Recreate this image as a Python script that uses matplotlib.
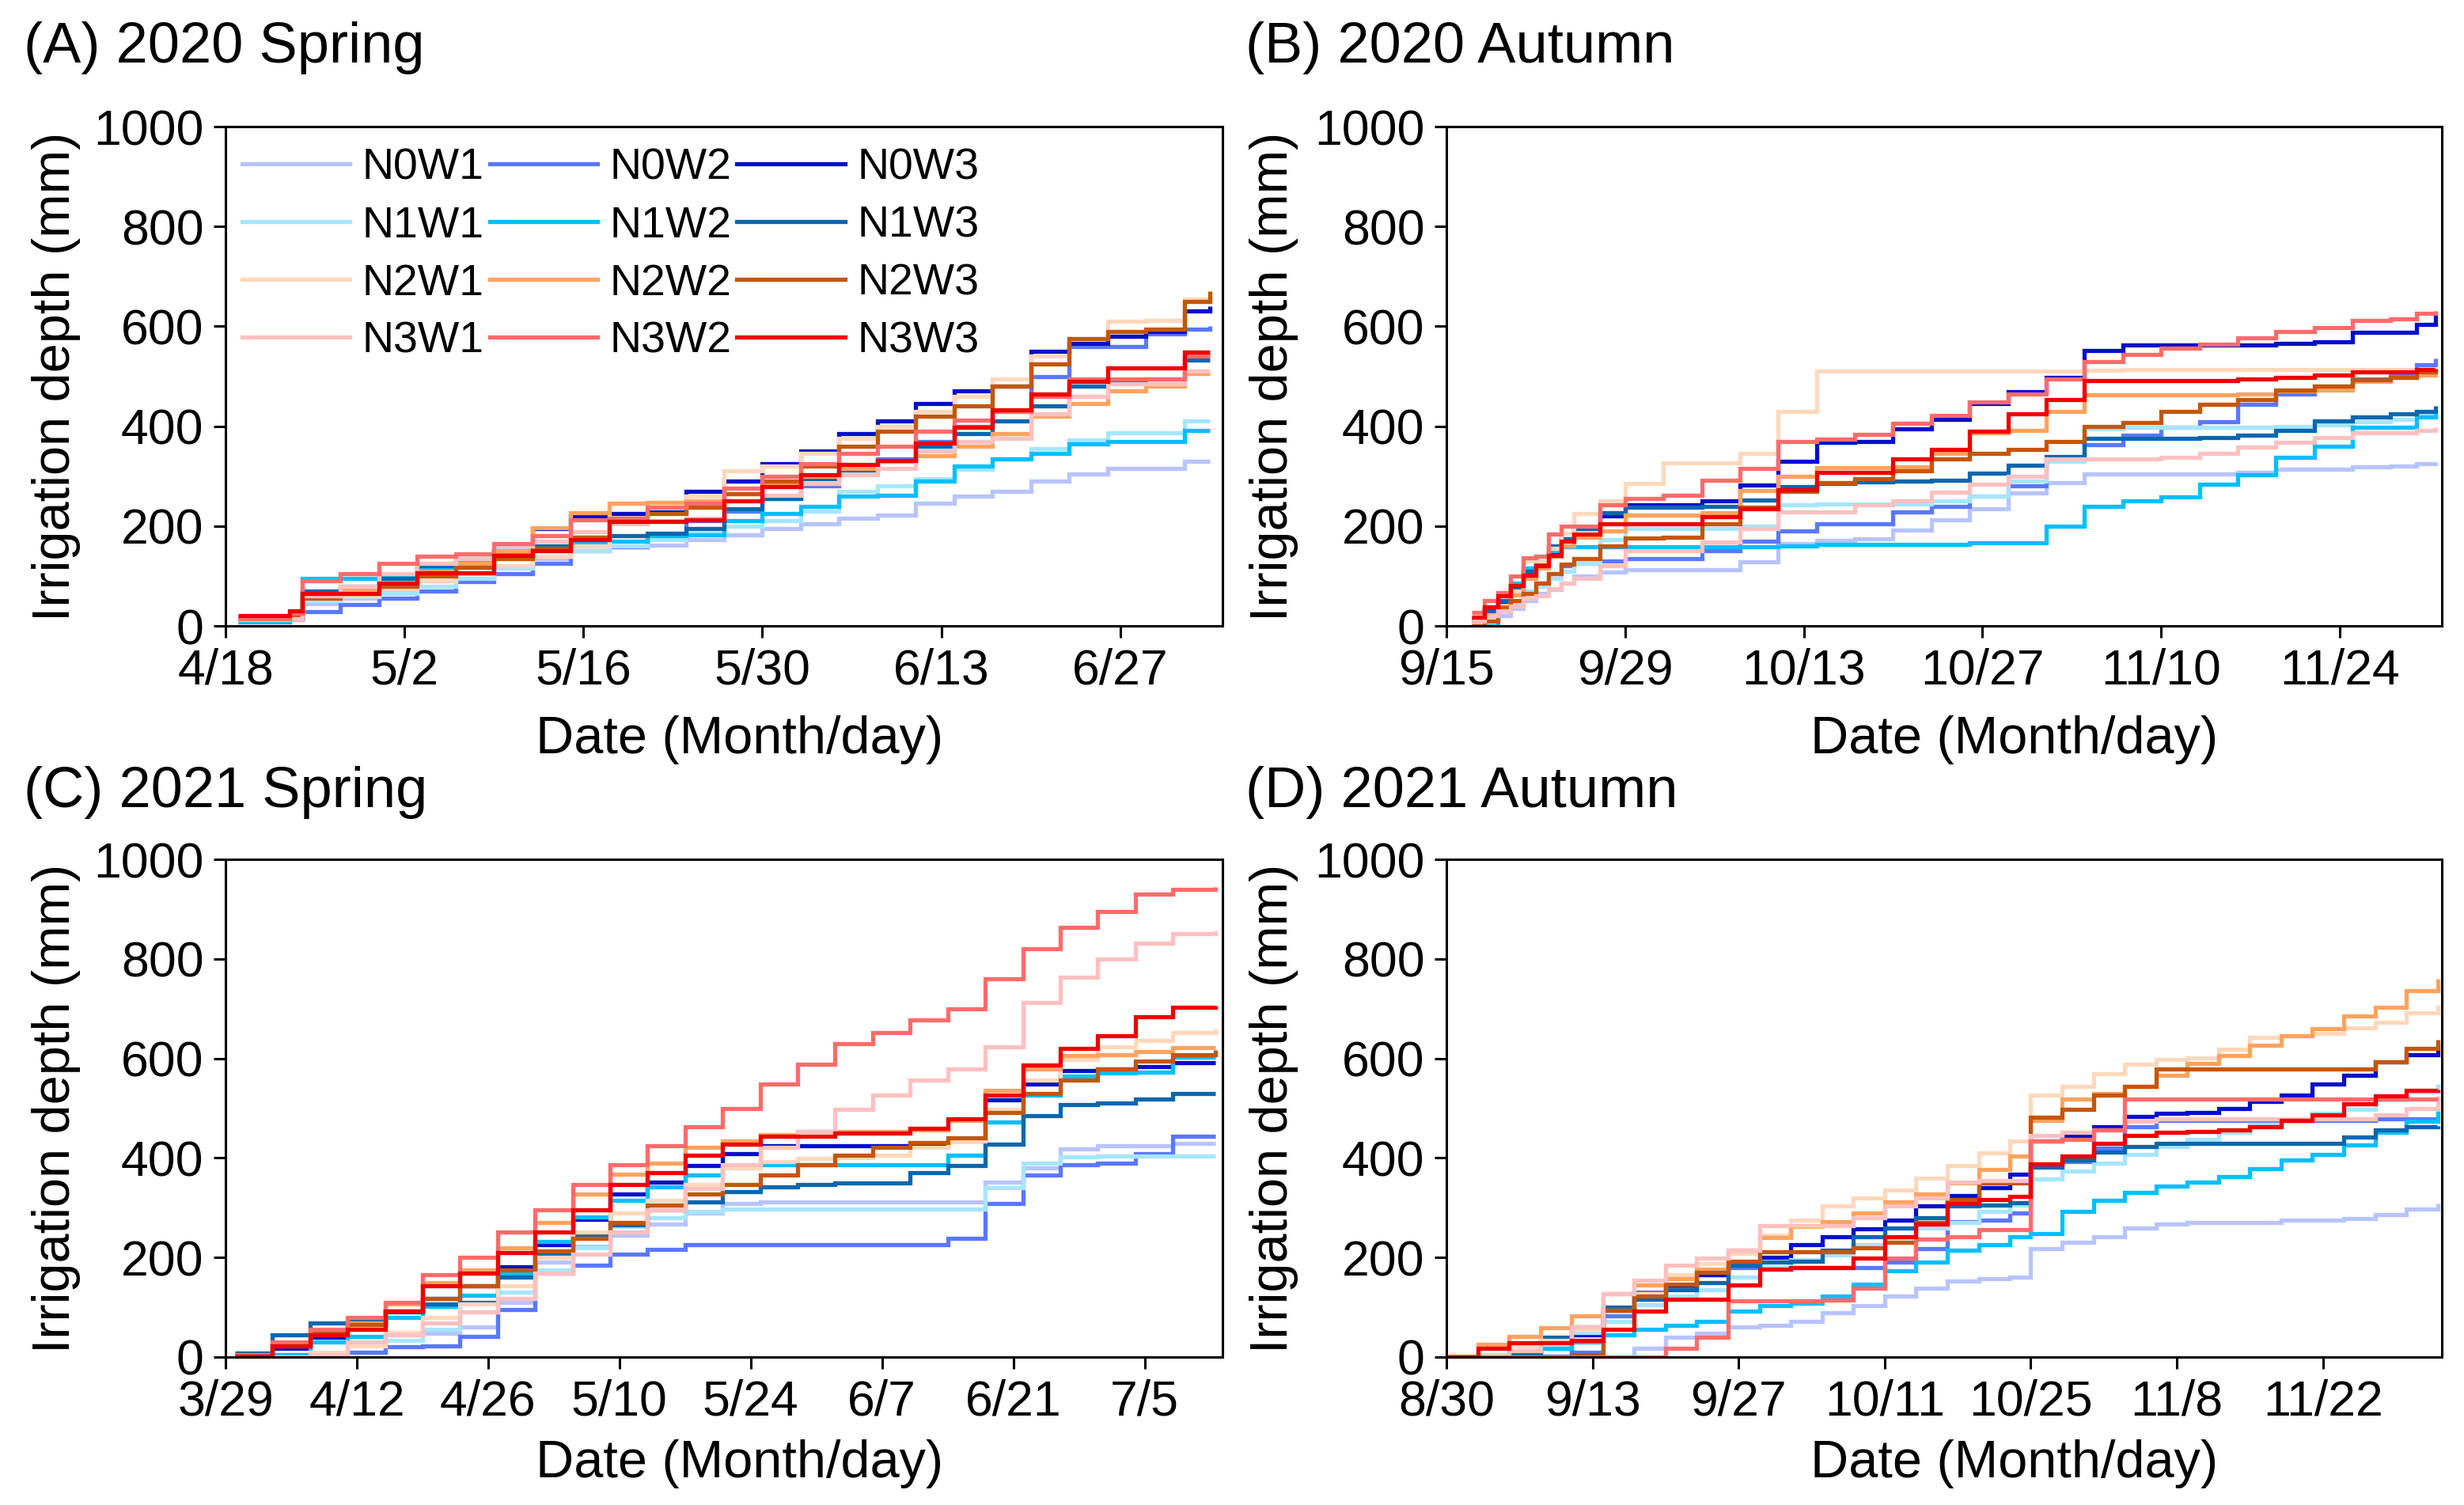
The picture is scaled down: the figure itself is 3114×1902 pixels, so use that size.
import numpy as np
import matplotlib
matplotlib.use("Agg")
import matplotlib.pyplot as plt
from matplotlib.lines import Line2D

plt.rcParams['font.family'] = ['Liberation Sans', 'DejaVu Sans']

series_names = ['N0W1', 'N0W2', 'N0W3', 'N1W1', 'N1W2', 'N1W3',
                'N2W1', 'N2W2', 'N2W3', 'N3W1', 'N3W2', 'N3W3']
series_colors = ['#B8C4FF', '#5A78FF', '#0010C8', '#A6E6FF', '#00BFFF', '#0A67AE',
                 '#FFD8BC', '#FFA35E', '#C4560A', '#FFC0C0', '#FF6B6B', '#EE0000']

y_ticks = [0, 200, 400, 600, 800, 1000]

# ---------------- (A) 2020 Spring : days after 4/18 ----------------
A_title = '(A) 2020 Spring'
A_xlabels = ['4/18', '5/2', '5/16', '5/30', '6/13', '6/27']
A_xmax = 78
A_days = [1, 5, 6, 9, 12, 15, 18, 21, 24, 27, 30, 33, 36, 39, 42, 45, 48, 51, 54, 57, 60, 63, 66, 69, 72, 75, 77]
A_N0W1 = [10, 12, 45, 55, 70, 90, 95, 120, 135, 150, 158, 162, 172, 182, 195, 205, 215, 222, 245, 260, 270, 290, 305, 315, 316, 329, 330]
A_N0W2 = [8, 15, 28, 42, 55, 70, 88, 105, 125, 150, 158, 175, 210, 230, 255, 280, 312, 335, 370, 400, 430, 500, 560, 560, 585, 595, 600]
A_N0W3 = [15, 18, 60, 75, 95, 105, 135, 150, 195, 220, 225, 228, 270, 290, 325, 350, 385, 410, 445, 470, 480, 550, 565, 580, 590, 630, 640]
A_N1W1 = [10, 12, 50, 58, 65, 80, 95, 115, 140, 150, 160, 172, 185, 200, 210, 230, 270, 280, 295, 313, 335, 355, 372, 387, 387, 410, 410]
A_N1W2 = [10, 15, 95, 95, 100, 115, 130, 145, 157, 167, 170, 180, 182, 210, 225, 240, 260, 262, 290, 320, 335, 345, 365, 370, 370, 392, 392]
A_N1W3 = [12, 15, 70, 80, 95, 120, 122, 150, 160, 178, 180, 185, 195, 235, 255, 295, 312, 330, 360, 385, 410, 440, 480, 488, 495, 533, 533]
A_N2W1 = [12, 15, 55, 60, 75, 90, 105, 120, 140, 160, 245, 247, 260, 310, 320, 345, 375, 400, 430, 460, 495, 540, 575, 610, 612, 655, 655]
A_N2W2 = [15, 18, 60, 75, 85, 110, 125, 150, 196, 226, 245, 247, 250, 265, 285, 300, 315, 330, 340, 360, 385, 420, 445, 470, 480, 505, 505]
A_N2W3 = [15, 18, 55, 65, 80, 100, 118, 135, 155, 178, 215, 225, 237, 265, 290, 320, 360, 390, 420, 440, 480, 525, 575, 590, 595, 650, 670]
A_N3W1 = [12, 15, 60, 80, 105, 125, 135, 160, 170, 188, 205, 210, 215, 250, 262, 285, 303, 315, 350, 370, 375, 425, 460, 485, 485, 511, 511]
A_N3W2 = [15, 25, 90, 105, 125, 140, 145, 165, 180, 212, 215, 238, 245, 275, 300, 325, 345, 360, 390, 412, 430, 460, 495, 495, 495, 540, 540]
A_N3W3 = [20, 30, 65, 65, 85, 106, 106, 141, 150, 173, 209, 209, 212, 251, 279, 302, 324, 332, 366, 398, 432, 464, 490, 516, 516, 548, 548]

# ---------------- (B) 2020 Autumn : days after 9/15 ----------------
B_title = '(B) 2020 Autumn'
B_xlabels = ['9/15', '9/29', '10/13', '10/27', '11/10', '11/24']
B_xmax = 78
B_days = [2, 3, 4, 5, 6, 7, 8, 9, 10, 12, 14, 17, 20, 23, 26, 29, 32, 35, 38, 41, 44, 47, 50, 53, 56, 59, 62, 65, 68, 71, 74, 76, 77.5]
B_N0W1 = [4, 17, 20, 35, 50, 65, 73, 85, 100, 108, 113, 113, 113, 128, 165, 171, 175, 192, 213, 235, 266, 287, 305, 305, 305, 305, 308, 313, 313, 318, 320, 325, 328]
B_N0W2 = [5, 15, 30, 48, 65, 85, 105, 120, 125, 130, 135, 135, 150, 170, 190, 205, 205, 229, 239, 260, 280, 332, 363, 382, 398, 409, 443, 465, 480, 495, 501, 523, 535]
B_N0W3 = [12, 33, 49, 81, 107, 126, 144, 175, 195, 220, 242, 242, 250, 282, 330, 367, 370, 395, 413, 445, 469, 498, 551, 562, 562, 562, 562, 565, 569, 588, 588, 604, 625]
B_N1W1 = [5, 15, 30, 45, 70, 80, 95, 110, 125, 173, 195, 195, 195, 200, 242, 244, 244, 244, 250, 260, 290, 330, 395, 398, 398, 398, 398, 400, 402, 409, 414, 424, 430]
B_N1W2 = [0, 0, 40, 85, 115, 140, 150, 158, 158, 158, 158, 158, 158, 158, 160, 163, 163, 163, 163, 166, 166, 200, 240, 251, 259, 284, 303, 337, 359, 398, 398, 418, 425]
B_N1W3 = [15, 30, 50, 75, 110, 125, 160, 175, 195, 226, 237, 237, 240, 252, 279, 285, 288, 290, 292, 306, 321, 339, 375, 375, 375, 377, 382, 392, 411, 419, 424, 430, 440]
B_N2W1 = [3, 15, 40, 70, 130, 130, 155, 185, 225, 250, 285, 327, 327, 345, 430, 510, 510, 510, 510, 510, 510, 510, 512, 514, 514, 514, 514, 514, 514, 514, 514, 514, 515]
B_N2W2 = [10, 22, 40, 62, 95, 115, 140, 160, 178, 190, 222, 222, 226, 271, 300, 317, 317, 318, 345, 387, 392, 430, 463, 463, 463, 463, 465, 470, 472, 490, 498, 503, 505]
B_N2W3 = [0, 10, 36, 50, 65, 86, 104, 123, 134, 160, 176, 178, 205, 237, 270, 287, 294, 310, 334, 345, 353, 369, 400, 408, 430, 443, 454, 472, 480, 493, 498, 509, 512]
B_N3W1 = [10, 20, 30, 40, 55, 60, 75, 85, 95, 120, 150, 150, 168, 195, 229, 229, 242, 250, 268, 284, 300, 334, 335, 335, 338, 346, 358, 368, 377, 387, 387, 391, 398]
B_N3W2 = [27, 50, 67, 100, 136, 140, 184, 200, 200, 242, 255, 262, 292, 316, 369, 374, 383, 405, 421, 448, 465, 495, 530, 544, 557, 564, 577, 590, 598, 612, 615, 626, 630]
B_N3W3 = [18, 38, 60, 81, 102, 120, 141, 170, 184, 205, 205, 205, 218, 234, 273, 308, 308, 334, 353, 390, 424, 453, 492, 492, 492, 492, 494, 498, 503, 509, 509, 513, 515]

# ---------------- (C) 2021 Spring : days after 3/29 ----------------
C_title = '(C) 2021 Spring'
C_xlabels = ['3/29', '4/12', '4/26', '5/10', '5/24', '6/7', '6/21', '7/5']
C_xmax = 106.3
C_days = [1, 5, 9, 13, 17, 21, 25, 29, 33, 37, 41, 45, 49, 53, 57, 61, 65, 69, 73, 77, 81, 85, 89, 93, 97, 101, 105.5]
C_N0W1 = [3, 3, 3, 10, 44, 48, 60, 110, 190, 222, 245, 267, 290, 308, 311, 311, 311, 311, 311, 311, 352, 380, 418, 425, 425, 430, 430]
C_N0W2 = [0, 0, 0, 10, 20, 22, 42, 96, 169, 185, 207, 216, 226, 226, 226, 226, 226, 226, 226, 238, 308, 365, 387, 390, 409, 444, 444]
C_N0W3 = [2, 18, 40, 65, 93, 118, 143, 181, 226, 276, 327, 352, 384, 409, 425, 425, 425, 425, 428, 434, 516, 548, 576, 579, 583, 591, 591]
C_N1W1 = [0, 0, 3, 30, 33, 55, 90, 131, 175, 219, 263, 280, 292, 298, 298, 298, 298, 298, 298, 298, 340, 390, 402, 404, 404, 404, 404]
C_N1W2 = [0, 5, 30, 42, 80, 102, 124, 169, 232, 282, 314, 342, 365, 380, 387, 387, 387, 387, 387, 406, 472, 526, 564, 570, 573, 602, 602]
C_N1W3 = [8, 45, 68, 72, 90, 106, 110, 160, 205, 245, 265, 295, 311, 333, 342, 346, 349, 349, 371, 384, 428, 485, 507, 510, 519, 529, 529]
C_N2W1 = [0, 0, 10, 23, 49, 80, 106, 143, 200, 251, 289, 314, 346, 380, 393, 399, 401, 406, 421, 434, 497, 557, 598, 624, 636, 652, 660]
C_N2W2 = [2, 27, 50, 68, 106, 150, 175, 219, 270, 327, 368, 390, 421, 434, 447, 453, 453, 453, 456, 475, 535, 579, 605, 608, 614, 622, 622]
C_N2W3 = [4, 23, 49, 65, 93, 118, 143, 175, 213, 238, 270, 305, 327, 346, 365, 387, 406, 421, 431, 440, 491, 529, 557, 579, 595, 608, 617]
C_N3W1 = [0, 0, 5, 30, 45, 68, 90, 118, 169, 207, 251, 295, 339, 387, 421, 453, 497, 526, 557, 579, 624, 712, 763, 800, 832, 851, 857]
C_N3W2 = [4, 30, 55, 80, 109, 166, 200, 251, 295, 346, 387, 425, 463, 500, 548, 589, 630, 652, 677, 700, 760, 820, 864, 895, 930, 940, 945]
C_N3W3 = [2, 23, 45, 55, 93, 143, 169, 210, 251, 295, 346, 371, 406, 428, 444, 444, 450, 450, 459, 478, 526, 586, 620, 646, 684, 703, 706]

# ---------------- (D) 2021 Autumn : days after 8/30 ----------------
D_title = '(D) 2021 Autumn'
D_xlabels = ['8/30', '9/13', '9/27', '10/11', '10/25', '11/8', '11/22']
D_xmax = 95.4
D_days = [0, 3, 6, 9, 12, 15, 18, 21, 24, 27, 30, 33, 36, 39, 42, 45, 48, 51, 54,
          56, 59, 62, 65, 68, 71, 74, 77, 80, 83, 86, 89, 92, 95]
D_N0W1 = [0, 0, 0, 0, 0, 0, 18, 39, 48, 61, 64, 72, 89, 103, 122, 138, 152, 157, 160,
          218, 231, 242, 259, 267, 270, 270, 270, 275, 275, 278, 286, 297, 308]
D_N0W2 = [0, 0, 0, 2, 10, 83, 130, 140, 165, 179, 179, 179, 179, 179, 190, 218, 272, 275, 290,
          385, 393, 420, 462, 475, 475, 475, 475, 475, 475, 475, 478, 478, 478]
D_N0W3 = [0, 2, 4, 18, 45, 94, 127, 145, 166, 185, 201, 226, 242, 258, 275, 303, 325, 341, 368,
          434, 445, 462, 484, 489, 492, 500, 514, 527, 548, 566, 593, 607, 632]
D_N1W1 = [0, 0, 3, 28, 50, 72, 105, 122, 135, 160, 180, 195, 205, 225, 240, 259, 270, 292, 305,
          357, 374, 390, 407, 423, 437, 451, 467, 473, 489, 497, 516, 533, 549]
D_N1W2 = [0, 5, 12, 18, 30, 45, 56, 64, 72, 92, 103, 108, 122, 146, 174, 190, 215, 226, 242,
          248, 292, 314, 330, 344, 352, 363, 379, 396, 407, 426, 451, 473, 495]
D_N1W3 = [0, 0, 5, 40, 61, 100, 116, 135, 149, 185, 190, 193, 215, 242, 259, 280, 303, 306, 310,
          382, 396, 412, 423, 429, 429, 429, 429, 429, 429, 442, 456, 462, 464]
D_N2W1 = [0, 5, 23, 34, 56, 94, 127, 166, 188, 209, 245, 275, 303, 319, 336, 360, 385, 410, 434,
          527, 544, 569, 588, 598, 601, 618, 643, 645, 651, 662, 673, 692, 708]
D_N2W2 = [1, 26, 42, 59, 83, 127, 144, 157, 176, 215, 240, 262, 272, 289, 311, 327, 349, 377, 404,
          475, 519, 530, 544, 566, 590, 605, 626, 645, 659, 686, 703, 736, 760]
D_N2W3 = [0, 0, 0, 0, 5, 94, 122, 146, 170, 193, 212, 212, 212, 220, 231, 270, 316, 349, 349,
          481, 497, 527, 544, 579, 579, 579, 579, 579, 579, 579, 593, 620, 637]
D_N3W1 = [0, 2, 12, 28, 61, 127, 155, 185, 198, 215, 264, 264, 264, 280, 303, 319, 352, 355, 355,
          445, 451, 456, 473, 478, 478, 478, 478, 478, 478, 478, 486, 500, 525]
D_N3W2 = [0, 0, 0, 0, 0, 0, 0, 18, 39, 113, 113, 113, 115, 138, 198, 237, 242, 256, 256,
          434, 437, 456, 519, 519, 519, 519, 519, 519, 519, 519, 519, 519, 519]
D_N3W3 = [0, 18, 28, 28, 34, 56, 92, 116, 116, 144, 176, 179, 179, 198, 242, 267, 308, 316, 322,
          388, 404, 429, 445, 451, 453, 456, 462, 475, 486, 508, 525, 536, 538]

panels = [
    dict(title=A_title, xlabels=A_xlabels, xmax=A_xmax, days=A_days,
         series=[A_N0W1, A_N0W2, A_N0W3, A_N1W1, A_N1W2, A_N1W3, A_N2W1, A_N2W2, A_N2W3, A_N3W1, A_N3W2, A_N3W3]),
    dict(title=B_title, xlabels=B_xlabels, xmax=B_xmax, days=B_days,
         series=[B_N0W1, B_N0W2, B_N0W3, B_N1W1, B_N1W2, B_N1W3, B_N2W1, B_N2W2, B_N2W3, B_N3W1, B_N3W2, B_N3W3]),
    dict(title=C_title, xlabels=C_xlabels, xmax=C_xmax, days=C_days,
         series=[C_N0W1, C_N0W2, C_N0W3, C_N1W1, C_N1W2, C_N1W3, C_N2W1, C_N2W2, C_N2W3, C_N3W1, C_N3W2, C_N3W3]),
    dict(title=D_title, xlabels=D_xlabels, xmax=D_xmax, days=D_days,
         series=[D_N0W1, D_N0W2, D_N0W3, D_N1W1, D_N1W2, D_N1W3, D_N2W1, D_N2W2, D_N2W3, D_N3W1, D_N3W2, D_N3W3]),
]

W, H = 3114, 1902
DPI = 200
fig = plt.figure(figsize=(W / DPI, H / DPI), dpi=DPI)

# layout (pixel boxes -> figure fractions)
col_left = [285, 1828]
col_right = [1545, 3086]
row_top = [160, 1086]
row_bot = [791, 1715]
title_y = [0.968, 0.4735]
title_x = [0.0096, 0.5055]
ylab_x = [0.0229, 0.5169]
xlab_x = [0.300, 0.8176]
xlab_y = [0.5084, 0.0273]

TICK_FS = 22.5
LAB_FS = 24
TITLE_FS = 26
LW = 1.9

for i, p in enumerate(panels):
    r, c = divmod(i, 2)
    l = col_left[c] / W
    w = (col_right[c] - col_left[c]) / W
    b = 1 - row_bot[r] / H
    h = (row_bot[r] - row_top[r]) / H
    ax = fig.add_axes([l, b, w, h])
    for name, col, vals in zip(series_names, series_colors, p['series']):
        d = p['days'][:len(vals)]
        ax.step(d, vals[:len(d)], where='post', color=col, lw=LW,
                label=name, solid_joinstyle='miter', solid_capstyle='butt')
    ax.set_xlim(0, p['xmax'])
    ax.set_ylim(0, 1000)
    ax.set_xticks(np.arange(len(p['xlabels'])) * 14)
    ax.set_xticklabels(p['xlabels'])
    ax.set_yticks(y_ticks)
    ax.set_yticklabels([str(v) for v in y_ticks])
    ax.tick_params(axis='both', direction='out', length=5.4, width=1.1, pad=4.5,
                   labelsize=TICK_FS, top=False, right=False)
    for sp in ax.spines.values():
        sp.set_linewidth(1.1)
    fig.text(title_x[c], title_y[r], p['title'], fontsize=TITLE_FS, ha='left', va='center')
    fig.text(ylab_x[c], b + h / 2, 'Irrigation depth (mm)', fontsize=LAB_FS,
             rotation=90, ha='center', va='center')
    fig.text(xlab_x[c], xlab_y[r], 'Date (Month/day)', fontsize=LAB_FS, ha='center', va='center')
    if i == 0:
        # legend filled row-wise: N0W1 N0W2 N0W3 / N1W1 ...
        order = [0, 3, 6, 9, 1, 4, 7, 10, 2, 5, 8, 11]
        leg_h = [Line2D([], [], color=series_colors[k], lw=LW) for k in order]
        leg_l = [series_names[k] for k in order]
        ax.legend(leg_h, leg_l, ncol=3, loc='upper left', bbox_to_anchor=(0.0163, 0.958),
                  frameon=False, fontsize=20, handlelength=2.46, handletextpad=0.27,
                  columnspacing=0.13, labelspacing=0.38, borderpad=0, borderaxespad=0)

fig.savefig('out.png', dpi=DPI)
